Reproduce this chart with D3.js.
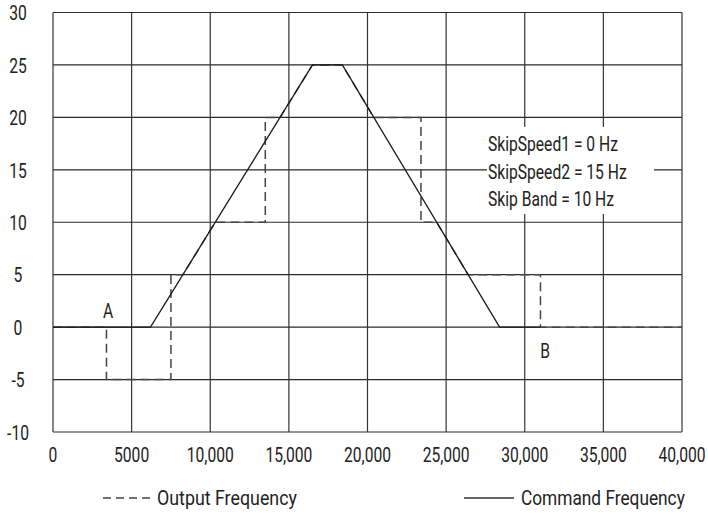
<!DOCTYPE html>
<html><head><meta charset="utf-8">
<script src="https://cdn.jsdelivr.net/npm/d3@7"></script>
<style>body{margin:0;background:#fff}</style>
</head><body><svg id="c" width="708" height="515"></svg>
<script>
const xTicks=[0,5000,10000,15000,20000,25000,30000,35000,40000];
const xTickLabels=["0","5000","10,000","15,000","20,000","25,000","30,000","35,000","40,000"];
const yTicks=[-10,-5,0,5,10,15,20,25,30];
const commandX=[0,6200,16500,18400,28400,31000];
const commandY=[0,0,25,25,0,0];
const outputX=[0,3400,3400,7500,7500,8260,10320,13500,13500,14440,16500,18400,20400,23400,23400,24400,26400,31000,31000,40000];
const outputY=[0,0,-5,-5,5,5,10,10,20,20,25,25,20,20,10,10,5,5,0,0];
const notes=["SkipSpeed1 = 0 Hz","SkipSpeed2 = 15 Hz","Skip Band = 10 Hz"];
const markLabels=["A","B"];
const markX=[3500,31300];
const markY=[1.5,-2.3];
const legendNames=["Output Frequency","Command Frequency"];

const FONT='Roboto,"DejaVu Sans",sans-serif';
const FS=21;
const svg=d3.select("#c");
const x=d3.scaleLinear().domain([0,40000]).range([53,682]);
const y=d3.scaleLinear().domain([-10,30]).range([432,12.5]);

// horizontal condensing factor, measured from the first note text
const probe=svg.append("text").attr("font-family",FONT).attr("font-size",FS).text(notes[0]);
const K=130/probe.node().getComputedTextLength();
probe.remove();
// draw condensed text: smaller font size, stretched vertically back to FS height
function place(sel,xf,yf,target){
  sel.attr("font-family",FONT).attr("font-size",FS).attr("fill","#222");
  sel.each(function(d,i){
    const w=this.getComputedTextLength();
    const t=target?target:w*K;
    const fs=FS*t/w;
    d3.select(this).attr("font-size",fs)
      .attr("transform",`translate(${xf(d,i)},${yf(d,i)}) scale(1,${FS/fs})`);
  });
  return sel;
}

// grid
const g=svg.append("g");
g.selectAll(".h").data(yTicks).join("line")
 .attr("x1",x(0)).attr("x2",x(40000)).attr("y1",d=>y(d)).attr("y2",d=>y(d))
 .attr("stroke","#2a2a2a").attr("stroke-width",1.2);
g.selectAll(".v").data(xTicks).join("line")
 .attr("y1",y(-10)).attr("y2",y(30)).attr("x1",d=>x(d)).attr("x2",d=>x(d))
 .attr("stroke","#333").attr("stroke-width",1.2);

// note box
svg.append("rect").attr("x",487).attr("y",127).attr("width",167).attr("height",87).attr("fill","#fff");
place(svg.append("g").selectAll("text").data(notes).join("text").text(d=>d),
  ()=>488,(d,i)=>151+i*27.5);

// axis labels
place(svg.append("g").selectAll("text").data(yTicks).join("text").text(d=>d)
  .attr("text-anchor","middle").attr("dominant-baseline","central"),
  ()=>18,d=>y(d)+1);
place(svg.append("g").selectAll("text").data(xTicks).join("text").text((d,i)=>xTickLabels[i])
  .attr("text-anchor","middle").attr("dominant-baseline","central"),
  d=>x(d),()=>455);

const line=d3.line().x(d=>x(d[0])).y(d=>y(d[1]));
const cmd=commandX.map((v,i)=>[v,commandY[i]]);
const out=outputX.map((v,i)=>[v,outputY[i]]);
svg.append("path").attr("d",line(out)).attr("fill","none").attr("stroke","#444")
 .attr("stroke-width",1.5).attr("stroke-dasharray","9,5");
svg.append("path").attr("d",line(cmd)).attr("fill","none").attr("stroke","#1a1a1a").attr("stroke-width",1.3);

place(svg.append("g").selectAll("text").data(markLabels).join("text").text(d=>d)
  .attr("text-anchor","middle").attr("dominant-baseline","central"),
  (d,i)=>x(markX[i]),(d,i)=>y(markY[i]));

// legend
const lg=svg.append("g");
lg.append("line").attr("x1",103).attr("x2",151).attr("y1",498).attr("y2",498)
 .attr("stroke","#444").attr("stroke-width",1.5).attr("stroke-dasharray","8,5");
place(lg.append("text").datum(legendNames[0]).text(d=>d).attr("dominant-baseline","central"),
  ()=>157,()=>498,140);
lg.append("line").attr("x1",464).attr("x2",514).attr("y1",498).attr("y2",498)
 .attr("stroke","#333").attr("stroke-width",1.3);
place(lg.append("text").datum(legendNames[1]).text(d=>d).attr("dominant-baseline","central"),
  ()=>521,()=>498,164);
</script></body></html>
